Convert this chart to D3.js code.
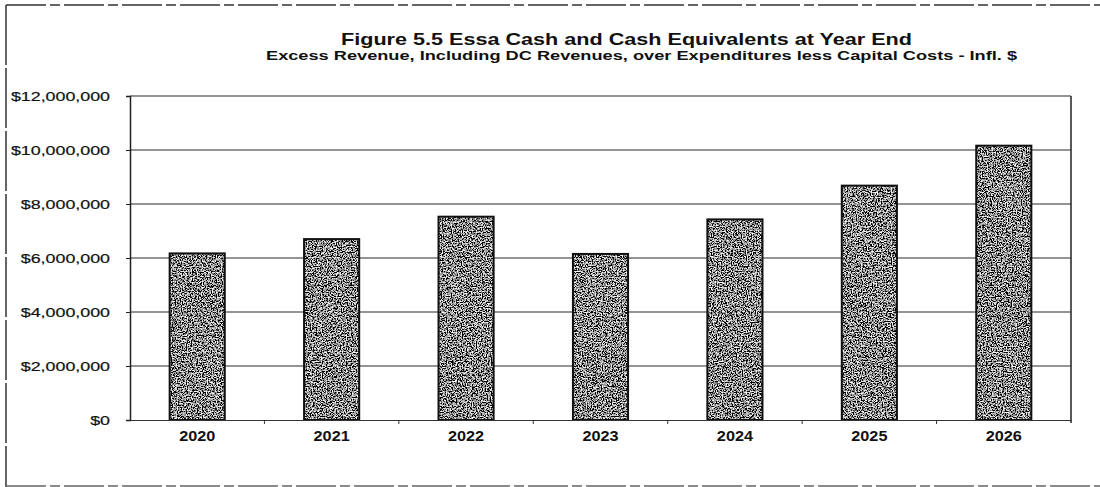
<!DOCTYPE html>
<html>
<head>
<meta charset="utf-8">
<script src="https://cdn.jsdelivr.net/npm/d3@7"></script>
<style>
  html, body { margin: 0; padding: 0; background: #fff; }
  svg { display: block; }
  text { font-family: "Liberation Sans", Arial, sans-serif; fill: #111; }
</style>
</head>
<body>
<div id="chart"></div>
<script>
// Year-end cash and cash equivalents, inflated dollars
const years = ["2020", "2021", "2022", "2023", "2024", "2025", "2026"];
const cashBalance = [6170000, 6700000, 7530000, 6150000, 7430000, 8680000, 10160000];
const yTicks = [0, 2000000, 4000000, 6000000, 8000000, 10000000, 12000000];

const titleText = "Figure 5.5 Essa Cash and Cash Equivalents at Year End";
const subtitleText = "Excess Revenue, Including DC Revenues, over Expenditures less Capital Costs - Infl. $";

const W = 1100, H = 487;
const margin = { left: 130, right: 29, top: 96, bottom: 67 };

const svg = d3.select("#chart").append("svg")
  .attr("width", W).attr("height", H);

// Widen a text element horizontally by a factor, keeping it as live text
function widen(sel, factor) {
  sel.each(function () {
    const len = this.getComputedTextLength();
    d3.select(this).attr("textLength", len * factor).attr("lengthAdjust", "spacingAndGlyphs");
  });
}

// Speckled grey fill for the bars: high-contrast greyscale noise
const defs = svg.append("defs");
const noise = defs.append("filter").attr("id", "grain")
  .attr("x", 0).attr("y", 0).attr("width", "100%").attr("height", "100%");
noise.append("feTurbulence")
  .attr("type", "fractalNoise").attr("baseFrequency", 0.8)
  .attr("numOctaves", 2).attr("seed", 11).attr("result", "n");
noise.append("feColorMatrix").attr("in", "n").attr("type", "matrix")
  .attr("values", "3.4 0 0 0 -1.42  3.4 0 0 0 -1.42  3.4 0 0 0 -1.42  0 0 0 0 1");

// Frame around the figure
svg.append("line").attr("x1", 6).attr("x2", W).attr("y1", 5).attr("y2", 5)
  .attr("stroke", "#333").attr("stroke-width", 1.5).attr("stroke-dasharray", "40 4 10 4");
svg.append("line").attr("x1", 6).attr("x2", 6).attr("y1", 5).attr("y2", H)
  .attr("stroke", "#333").attr("stroke-width", 1.5).attr("stroke-dasharray", "60 3");
svg.append("line").attr("x1", 6).attr("x2", W).attr("y1", H - 1).attr("y2", H - 1)
  .attr("stroke", "#666").attr("stroke-width", 1.5).attr("stroke-dasharray", "40 4 10 4");

// Titles
svg.append("text").attr("x", 341).attr("y", 45)
  .attr("font-size", 16.5).attr("font-weight", "bold").text(titleText)
  .attr("textLength", 571).attr("lengthAdjust", "spacingAndGlyphs");
svg.append("text").attr("x", 266).attr("y", 60)
  .attr("font-size", 12.5).attr("font-weight", "bold").attr("fill", "#222").text(subtitleText)
  .attr("textLength", 751).attr("lengthAdjust", "spacingAndGlyphs");

const x = d3.scaleBand().domain(years)
  .range([margin.left, W - margin.right]).paddingInner(0.59).paddingOuter(0.295);
const xOuter = d3.scaleBand().domain(years).range([margin.left, W - margin.right]);
const y = d3.scaleLinear().domain([0, 12000000]).range([H - margin.bottom, margin.top]);

const fmt = v => "$" + d3.format(",")(v);

// Horizontal gridlines
svg.append("g").selectAll("line").data(yTicks.slice(1)).join("line")
  .attr("x1", margin.left).attr("x2", W - margin.right)
  .attr("y1", d => y(d)).attr("y2", d => y(d))
  .attr("stroke", "#2a2a2a").attr("stroke-width", 1.1);

// Bars
svg.append("g").selectAll("rect").data(years).join("rect")
  .attr("x", d => x(d))
  .attr("y", (d, i) => y(cashBalance[i]))
  .attr("width", x.bandwidth())
  .attr("height", (d, i) => y(0) - y(cashBalance[i]))
  .attr("fill", "#888")
  .attr("filter", "url(#grain)");
svg.append("g").selectAll("rect").data(years).join("rect")
  .attr("x", d => x(d))
  .attr("y", (d, i) => y(cashBalance[i]))
  .attr("width", x.bandwidth())
  .attr("height", (d, i) => y(0) - y(cashBalance[i]))
  .attr("fill", "none").attr("stroke", "#111").attr("stroke-width", 2);

// Y axis
const yAxis = svg.append("g").attr("transform", `translate(${margin.left},0)`)
  .call(d3.axisLeft(y).tickValues(yTicks).tickFormat(fmt).tickSize(4).tickPadding(16));
yAxis.select(".domain").attr("stroke", "#222").attr("stroke-width", 1.5);
yAxis.selectAll(".tick line").attr("stroke", "#222");
const yLabels = yAxis.selectAll("text").attr("font-size", 13.5).attr("fill", "#111")
  .attr("stroke", "#111").attr("stroke-width", 0.2)
  .attr("font-family", "Liberation Sans, Arial, sans-serif");
widen(yLabels, 1.32);

// Right edge of plot area
svg.append("line").attr("x1", W - margin.right).attr("x2", W - margin.right)
  .attr("y1", margin.top).attr("y2", H - margin.bottom + 3)
  .attr("stroke", "#222").attr("stroke-width", 1.5);

// X axis with tick marks at category boundaries
const xAxis = svg.append("g").attr("transform", `translate(0,${H - margin.bottom})`)
  .call(d3.axisBottom(x).tickSize(0).tickPadding(11));
xAxis.select(".domain").attr("stroke", "#333").attr("stroke-width", 1.2);
const xLabels = xAxis.selectAll("text").attr("font-size", 14.5).attr("font-weight", "bold").attr("fill", "#222")
  .attr("font-family", "Liberation Sans, Arial, sans-serif");
widen(xLabels, 1.12);
xAxis.selectAll("line.sep").data(years.slice(1)).join("line").attr("class", "sep")
  .attr("x1", d => xOuter(d)).attr("x2", d => xOuter(d))
  .attr("y1", 0).attr("y2", 4).attr("stroke", "#333");
</script>
</body>
</html>
